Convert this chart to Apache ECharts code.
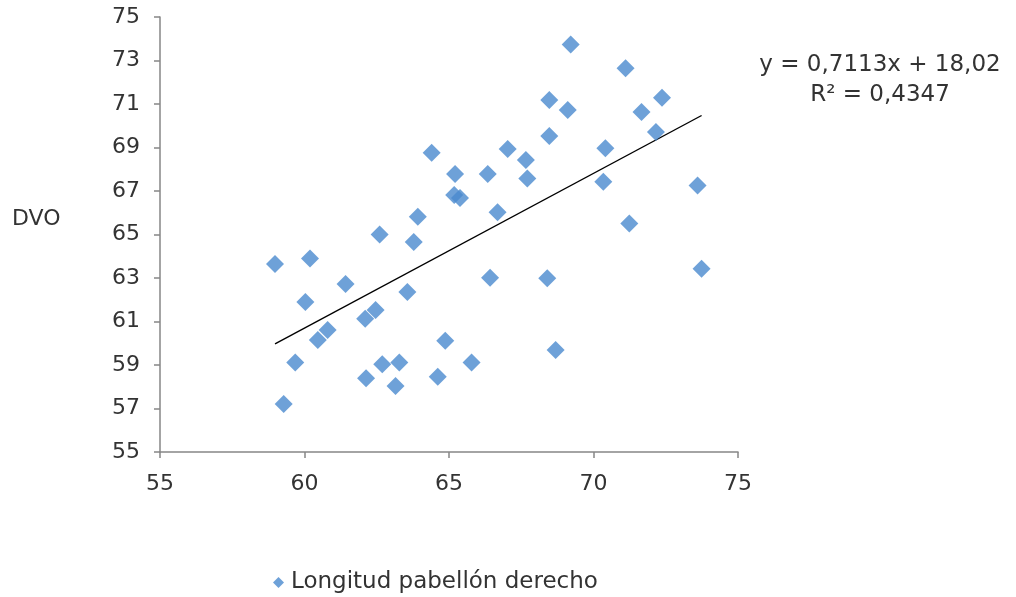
<!DOCTYPE html>
<html>
<head>
<meta charset="utf-8">
<script src="https://cdn.jsdelivr.net/npm/echarts@6/dist/echarts.min.js"></script>
<style>
  html, body { margin: 0; padding: 0; background: #fff; }
  #chart { width: 1016px; height: 597px; }
</style>
</head>
<body>
<div id="chart"></div>
<script>
// Longitud pabellón derecho (x) vs DVO (y)
var xVals = [58.98, 59.28, 59.68, 60.03, 60.19, 60.46, 60.80, 61.42, 62.10, 62.46,
             62.13, 62.60, 62.69, 63.15, 63.28, 63.56, 63.78, 63.92, 64.40, 64.61,
             64.87, 65.21, 65.18, 65.38, 65.78, 66.34, 66.42, 66.68, 67.03, 67.66,
             67.71, 68.40, 68.47, 68.47, 68.69, 69.11, 69.21, 70.34, 70.41, 71.11,
             71.24, 71.66, 72.16, 72.37, 73.60, 73.74];
var yVals = [63.64, 57.21, 59.12, 61.90, 63.90, 60.15, 60.61, 62.72, 61.13, 61.53,
             58.39, 65.00, 59.03, 58.03, 59.12, 62.36, 64.65, 65.82, 68.76, 58.46,
             60.12, 67.78, 66.82, 66.68, 59.12, 67.78, 63.01, 66.02, 68.93, 68.43,
             67.58, 62.99, 71.18, 69.53, 59.69, 70.72, 73.74, 67.43, 68.96, 72.64,
             65.51, 70.63, 69.71, 71.29, 67.25, 63.43];
var yTicks = [55, 57, 59, 61, 63, 65, 67, 69, 71, 73, 75];
var xTicks = [55, 60, 65, 70, 75];

// línea de tendencia de Excel
var slope = 0.7113;
var intercept = 18.02;
var eqText = 'y = 0,7113x + 18,02\nR² = 0,4347';

var points = xVals.map(function (x, i) { return [x, yVals[i]]; });
var xMin = Math.min.apply(null, xVals);
var xMax = Math.max.apply(null, xVals);
var trend = [[xMin, slope * xMin + intercept], [xMax, slope * xMax + intercept]];

var font = 'DejaVu Sans, Verdana, sans-serif';
var axisColor = '#868686';
var textColor = '#333';

var chart = echarts.init(document.getElementById('chart'));
chart.setOption({
  backgroundColor: '#fff',
  animation: false,
  textStyle: { fontFamily: font },
  grid: { left: 160, right: 278, top: 17, bottom: 145, containLabel: false },
  xAxis: {
    type: 'value',
    min: xTicks[0],
    max: xTicks[xTicks.length - 1],
    interval: 5,
    splitLine: { show: false },
    axisLine: { lineStyle: { color: axisColor, width: 1.5 } },
    axisTick: { show: true, length: 6, lineStyle: { color: axisColor, width: 1.5 } },
    axisLabel: { color: textColor, fontSize: 22, fontFamily: font, margin: 21 }
  },
  yAxis: {
    type: 'value',
    min: yTicks[0],
    max: yTicks[yTicks.length - 1],
    interval: 2,
    splitLine: { show: false },
    axisLine: { show: true, lineStyle: { color: axisColor, width: 1.5 } },
    axisTick: { show: true, length: 6, lineStyle: { color: axisColor, width: 1.5 } },
    axisLabel: { color: textColor, fontSize: 22, fontFamily: font, margin: 20 }
  },
  legend: {
    data: [{ name: 'Longitud pabellón derecho', icon: 'diamond' }],
    left: 268,
    top: 566,
    itemWidth: 11,
    itemHeight: 11,
    itemGap: 6,
    textStyle: { color: textColor, fontSize: 23, fontFamily: font, padding: [0, 0, 0, 2] }
  },
  graphic: [
    {
      type: 'text',
      x: 12,
      y: 208,
      style: { text: 'DVO', fill: textColor, font: '22px ' + font }
    },
    {
      type: 'text',
      x: 880,
      y: 50,
      style: { text: eqText, fill: textColor, font: '23px ' + font, lineHeight: 30, align: 'center' }
    }
  ],
  series: [
    {
      name: 'Longitud pabellón derecho',
      type: 'scatter',
      symbol: 'diamond',
      symbolSize: 18,
      itemStyle: { color: '#4a89ce' },
      data: points,
      z: 3
    },
    {
      name: 'tendencia',
      type: 'line',
      data: trend,
      symbol: 'none',
      lineStyle: { color: '#000', width: 1.4 },
      z: 2
    }
  ]
});
</script>
</body>
</html>
